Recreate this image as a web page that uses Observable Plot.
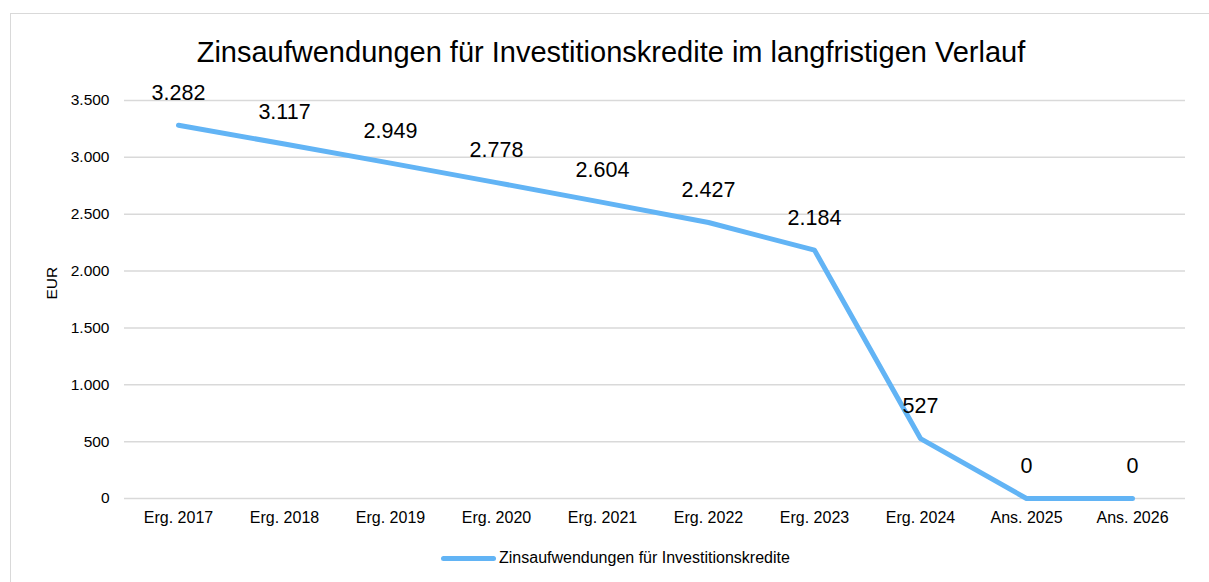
<!DOCTYPE html>
<html>
<head>
<meta charset="utf-8">
<script src="https://cdn.jsdelivr.net/npm/d3@7"></script>
<script src="https://cdn.jsdelivr.net/npm/@observablehq/plot@0.6"></script>
<style>
  html, body { margin: 0; padding: 0; background: #fff; }
  body { width: 1209px; height: 582px; position: relative; overflow: hidden; font-family: "Liberation Sans", Arial, sans-serif; }
  #frame { position: absolute; left: 10px; top: 13px; width: 1220px; height: 600px; border: 1.5px solid #D9D9D9; box-sizing: border-box; }
  #title { position: absolute; left: 0; width: 1222px; top: 35px; line-height: 34px; text-align: center; font-size: 29px; color: #000; white-space: nowrap; }
  #chart { position: absolute; left: 0; top: 0; }
  #legend { position: absolute; left: 441px; top: 548px; font-size: 16px; line-height: 20px; color: #000; display: flex; align-items: center; white-space: nowrap; }
  #legend .sw { width: 55px; height: 5px; border-radius: 3px; background: #62B4F5; margin-right: 3px; }
</style>
</head>
<body>
<div id="frame"></div>
<div id="chart"></div>
<div id="title">Zinsaufwendungen für Investitionskredite im langfristigen Verlauf</div>
<div id="legend"><div class="sw"></div><span>Zinsaufwendungen für Investitionskredite</span></div>
<script>
const categories = ["Erg. 2017","Erg. 2018","Erg. 2019","Erg. 2020","Erg. 2021","Erg. 2022","Erg. 2023","Erg. 2024","Ans. 2025","Ans. 2026"];
const values = [3282, 3117, 2949, 2778, 2604, 2427, 2184, 527, 0, 0];
const yTicks = [0, 500, 1000, 1500, 2000, 2500, 3000, 3500];
const seriesName = "Zinsaufwendungen für Investitionskredite";

const de = d3.formatLocale({decimal: ",", thousands: ".", grouping: [3], currency: ["", " €"]});
const fmt = de.format(",d");
const data = categories.map((c, i) => ({cat: c, value: values[i]}));

const plot = Plot.plot({
  width: 1209,
  height: 582,
  marginLeft: 124,
  marginRight: 24,
  marginTop: 100,
  marginBottom: 84,
  style: {fontFamily: "Liberation Sans, Arial, sans-serif", fontSize: "15px", color: "#000", background: "transparent"},
  x: {type: "band", domain: categories, label: null, padding: 0},
  y: {domain: [0, 3500], label: null},
  marks: [
    Plot.gridY(yTicks, {stroke: "#D9D9D9", strokeOpacity: 1, strokeWidth: 1.5}),
    Plot.axisY(yTicks, {tickSize: 0, tickPadding: 15, tickFormat: fmt, fontSize: 15.5, label: null}),
    Plot.axisX({tickSize: 0, tickPadding: 13, fontSize: 16, label: null}),
    Plot.text(["EUR"], {frameAnchor: "left", dx: -72, rotate: -90, fontSize: 15.5, fill: "#000"}),
    Plot.line(data, {x: "cat", y: "value", stroke: "#62B4F5", strokeWidth: 5, strokeLinecap: "round", strokeLinejoin: "round"}),
    Plot.text(data, {x: "cat", y: "value", text: d => fmt(d.value), dy: -32, fontSize: 21.5, fill: "#000"})
  ]
});
document.getElementById("chart").appendChild(plot);
</script>
</body>
</html>
